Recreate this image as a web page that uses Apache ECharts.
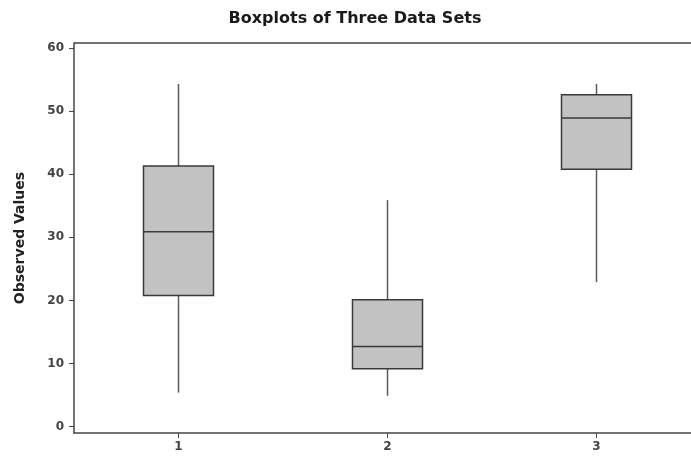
<!DOCTYPE html>
<html>
<head>
<meta charset="utf-8">
<script src="https://cdn.jsdelivr.net/npm/echarts@6/dist/echarts.min.js"></script>
<style>
  html, body { margin: 0; padding: 0; background: #fff; }
  #chart { width: 691px; height: 461px; }
</style>
</head>
<body>
<div id="chart"></div>
<script>
// 数据：每组 [最小, Q1, 中位数, Q3, 最大]
const categories = ['1', '2', '3']
const lowValues = [5.4, 4.9, 22.9]
const q1Values = [20.8, 9.2, 40.8]
const medianValues = [30.9, 12.7, 48.9]
const q3Values = [41.3, 20.1, 52.6]
const highValues = [54.3, 35.9, 54.3]
const yTicks = [0, 10, 20, 30, 40, 50, 60]

const boxData = categories.map((c, i) => [i, lowValues[i], q1Values[i], medianValues[i], q3Values[i], highValues[i]])

const chart = echarts.init(document.getElementById('chart'))

// 自定义箱线图：没有须线端帽
function renderBox(params, api) {
  const x = api.value(0)
  const low = api.coord([x, api.value(1)])
  const q1 = api.coord([x, api.value(2)])
  const med = api.coord([x, api.value(3)])
  const q3 = api.coord([x, api.value(4)])
  const high = api.coord([x, api.value(5)])
  const halfW = api.size([1, 0])[0] * 0.335 / 2
  const cx = q1[0]
  const lineStyle = { stroke: '#5a5a5a', lineWidth: 1.5 }
  const boxStyle = { stroke: '#3a3a3a', lineWidth: 1.5 }
  return {
    type: 'group',
    children: [
      { type: 'line', shape: { x1: cx, y1: high[1], x2: cx, y2: q3[1] }, style: lineStyle },
      { type: 'line', shape: { x1: cx, y1: q1[1], x2: cx, y2: low[1] }, style: lineStyle },
      { type: 'rect', shape: { x: cx - halfW, y: q3[1], width: halfW * 2, height: q1[1] - q3[1] },
        style: { fill: '#c2c2c2', stroke: '#3a3a3a', lineWidth: 1.5 } },
      { type: 'line', shape: { x1: cx - halfW, y1: med[1], x2: cx + halfW, y2: med[1] }, style: boxStyle }
    ]
  }
}

const labelFont = { fontFamily: 'DejaVu Sans', fontWeight: 'bold', fontSize: 12, color: '#444' }

chart.setOption({
  animation: false,
  backgroundColor: '#fff',
  title: {
    text: 'Boxplots of Three Data Sets',
    left: 350,
    top: 6,
    textAlign: 'center',
    textStyle: { fontFamily: 'DejaVu Sans', fontWeight: 'bold', fontSize: 16, color: '#1a1a1a' }
  },
  // 右侧边框在图片外（被裁掉）
  grid: { left: 74, width: 627, top: 43, bottom: 28, outerBoundsMode: 'none' },
  xAxis: {
    type: 'category',
    data: categories,
    boundaryGap: true,
    axisLine: { show: true, onZero: false, lineStyle: { color: '#444', width: 1.5 } },
    axisTick: { show: true, alignWithLabel: true, length: 5, lineStyle: { color: '#444' } },
    axisLabel: Object.assign({ margin: 8 }, labelFont),
    splitLine: { show: false }
  },
  yAxis: {
    type: 'value',
    min: -1,
    max: 60.8,
    name: 'Observed Values',
    nameLocation: 'middle',
    nameGap: 47,
    nameRotate: 90,
    nameTextStyle: { fontFamily: 'DejaVu Sans', fontWeight: 'bold', fontSize: 14, color: '#222' },
    axisLine: { show: true, lineStyle: { color: '#444', width: 1.5 } },
    axisTick: { show: true, length: 5, customValues: yTicks, lineStyle: { color: '#444' } },
    axisLabel: Object.assign({ customValues: yTicks, margin: 10 }, labelFont),
    splitLine: { show: false }
  },
  series: [
    {
      type: 'custom',
      renderItem: renderBox,
      encode: { x: 0, y: [1, 2, 3, 4, 5] },
      data: boxData
    }
  ],
  graphic: [
    // 上边框
    { type: 'line', shape: { x1: 74, y1: 43, x2: 691, y2: 43 }, style: { stroke: '#444', lineWidth: 1.5 } }
  ]
})
</script>
</body>
</html>
